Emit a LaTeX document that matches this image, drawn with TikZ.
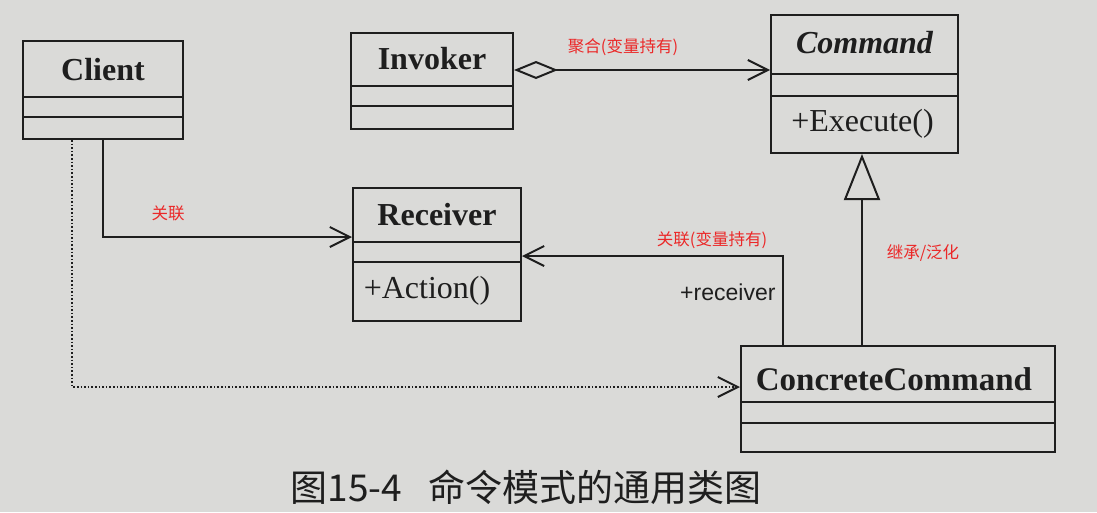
\documentclass[tikz,border=0pt]{standalone}
\usepackage{fontspec}
\setmainfont{Liberation Serif}
\newfontfamily\cjk{Noto Sans CJK SC}
\newfontfamily\arialf{Liberation Sans}
\usetikzlibrary{arrows.meta,calc}
\definecolor{paper}{RGB}{218,218,216}
\definecolor{ink}{RGB}{30,30,30}
\definecolor{redlab}{RGB}{235,40,40}
\begin{document}
\begin{tikzpicture}[x=1pt,y=-1pt,
  classbox/.style={draw=ink,line width=2pt,rectangle,anchor=north west,inner sep=0pt},
  title/.style={font=\fontsize{32}{36}\selectfont\bfseries,text=ink},
  method/.style={font=\fontsize{32}{36}\selectfont,text=ink},
  conn/.style={draw=ink,line width=2pt},
  assoc/.style={conn,-{Straight Barb[length=20pt,width=20pt,line width=2pt]}},
  dep/.style={draw=ink,line width=1.6pt,dotted,-{Straight Barb[length=20pt,width=20pt,line width=2pt]}},
  aggr/.style={conn,{Diamond[open,length=44pt,width=18pt,line width=2pt]}-{Straight Barb[length=20pt,width=20pt,line width=2pt]}},
  inherit/.style={conn,-{Triangle[open,length=46pt,width=36pt,line width=2pt]}},
  redlabel/.style={font=\cjk\fontsize{16.5}{19}\selectfont,text=redlab},
  ]
\useasboundingbox (0,0) rectangle (1097,512);
\fill[paper] (0,0) rectangle (1097,512);

% Client
\node[classbox,minimum width=160pt,minimum height=98pt] (client) at (22,40) {};
\draw[conn] ($(client.north west)+(0,57)$) -- ($(client.north east)+(0,57)$);
\draw[conn] ($(client.north west)+(0,77)$) -- ($(client.north east)+(0,77)$);
\node[title] (clientname) at ($(client.north)+(0,30)$) {Client};

% Invoker
\node[classbox,minimum width=162pt,minimum height=96pt] (invoker) at (350,32) {};
\draw[conn] ($(invoker.north west)+(0,54)$) -- ($(invoker.north east)+(0,54)$);
\draw[conn] ($(invoker.north west)+(0,74)$) -- ($(invoker.north east)+(0,74)$);
\node[title] (invokername) at ($(invoker.north)+(0,27)$) {Invoker};

% Command
\node[classbox,minimum width=187pt,minimum height=138pt] (command) at (770,14) {};
\draw[conn] ($(command.north west)+(0,60)$) -- ($(command.north east)+(0,60)$);
\draw[conn] ($(command.north west)+(0,82)$) -- ($(command.north east)+(0,82)$);
\node[title,font=\fontsize{32}{36}\selectfont\bfseries\itshape] (commandname) at ($(command.north)+(0,29)$) {Command};
\node[method] (execute) at ($(command.north)+(-2,110)$) {+Execute()};

% Receiver
\node[classbox,minimum width=168pt,minimum height=133pt] (receiver) at (352,187) {};
\draw[conn] ($(receiver.north west)+(0,55)$) -- ($(receiver.north east)+(0,55)$);
\draw[conn] ($(receiver.north west)+(0,75)$) -- ($(receiver.north east)+(0,75)$);
\node[title] (receivername) at ($(receiver.north)+(0,28)$) {Receiver};
\node[method] (action) at ($(receiver.north)+(-10,104)$) {+Action()};

% ConcreteCommand
\node[classbox,minimum width=314pt,minimum height=106pt] (cc) at (740,345) {};
\draw[conn] ($(cc.north west)+(0,57)$) -- ($(cc.north east)+(0,57)$);
\draw[conn] ($(cc.north west)+(0,78)$) -- ($(cc.north east)+(0,78)$);
\node[title,font=\fontsize{33}{36}\selectfont\bfseries] (ccname) at ($(cc.north)+(-4,34)$) {ConcreteCommand};

% Connectors
\draw[aggr] ($(invoker.north east)+(0,38)$) -- ($(command.north west)+(0,56)$);
\draw[assoc] ($(client.south west)+(81,0)$) |- ($(receiver.north west)+(0,50)$);
\draw[dep] ($(client.south west)+(50,0)$) |- ($(cc.north west)+(0,42)$);
\draw[assoc] ($(cc.north west)+(43,0)$) |- ($(receiver.north east)+(0,69)$);
\draw[inherit] ($(cc.north west)+(122,0)$) -- ($(command.south west)+(92,0)$);

% Labels
\node[redlabel] (l1) at (623,47) {聚合(变量持有)};
\node[redlabel] (l2) at (168,213) {关联};
\node[redlabel] (l3) at (712,240) {关联(变量持有)};
\node[redlabel] (l4) at (923,253) {继承/泛化};
\node[font=\arialf\fontsize{23}{26}\selectfont,text=ink,anchor=east] (rcv) at (779,292) {+receiver};

% Caption
\node[font=\cjk\fontsize{37}{42}\selectfont,text=ink] (caption) at (526,487) {图15-4\hspace{26pt}命令模式的通用类图};
\end{tikzpicture}
\end{document}
